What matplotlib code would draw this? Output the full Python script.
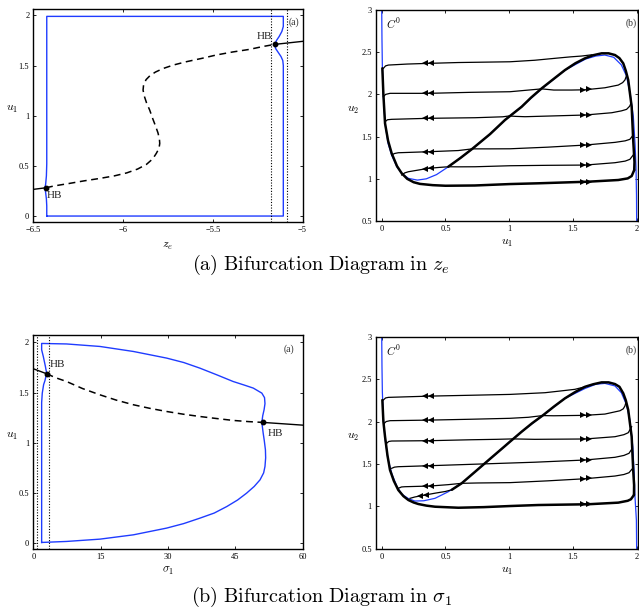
import numpy as np
import matplotlib
matplotlib.use("Agg")
from matplotlib import rcParams

rcParams["mathtext.fontset"] = "cm"
rcParams["font.family"] = "serif"
rcParams["font.serif"] = ["Liberation Serif", "DejaVu Serif"]
import matplotlib.pyplot as plt

BLUE = "#1f3cff"

# ---- (a) bifurcation in z_e ----
ze_ticks = [-6.5, -6, -5.5, -5]
ze_ticklabels = ["\u22126.5", "\u22126", "\u22125.5", "\u22125"]
u1_ticks = [0, 0.5, 1, 1.5, 2]
u1_ticklabels = ["0", "0.5", "1", "1.5", "2"]

ze_cycle = [(-6.426, 0.0), (-5.107, 0.0), (-5.107, 1.50), (-5.11, 1.55), (-5.12, 1.59),
            (-5.135, 1.63), (-5.15, 1.67), (-5.155, 1.71), (-5.145, 1.75), (-5.13, 1.79),
            (-5.115, 1.84), (-5.107, 1.89), (-5.107, 1.99), (-6.426, 1.99), (-6.426, 0.52),
            (-6.428, 0.40), (-6.432, 0.32), (-6.436, 0.28), (-6.432, 0.23), (-6.428, 0.17),
            (-6.426, 0.10), (-6.426, 0.0)]
ze_stable_lo = [(-6.5, 0.266), (-6.43, 0.282)]
ze_unstable = [(-6.43, 0.282), (-6.385, 0.30), (-6.30, 0.325), (-6.22, 0.35), (-6.13, 0.375),
               (-6.05, 0.40), (-5.98, 0.43), (-5.92, 0.468), (-5.87, 0.515), (-5.835, 0.57),
               (-5.815, 0.625), (-5.80, 0.675), (-5.796, 0.724), (-5.798, 0.77), (-5.806, 0.83),
               (-5.82, 0.90), (-5.835, 0.97), (-5.852, 1.056), (-5.87, 1.13), (-5.883, 1.20),
               (-5.889, 1.256), (-5.886, 1.31), (-5.872, 1.36), (-5.85, 1.40), (-5.82, 1.435),
               (-5.778, 1.47), (-5.72, 1.505), (-5.648, 1.538), (-5.56, 1.572), (-5.481, 1.605),
               (-5.39, 1.635), (-5.296, 1.661), (-5.22, 1.69), (-5.154, 1.711)]
ze_stable_hi = [(-5.154, 1.711), (-5.0, 1.741)]
ze_hb = [(-6.43, 0.282), (-5.154, 1.711)]
ze_dotted = [-5.176, -5.089]

# ---- (b) bifurcation in sigma_1 ----
sig_ticks = [0, 15, 30, 45, 60]
sig_ticklabels = ["0", "15", "30", "45", "60"]
sig_cycle = [(1.86, 0.007), (7.4, 0.017), (14.85, 0.04), (22.3, 0.083), (29.7, 0.15),
             (33.5, 0.195), (37.1, 0.249), (40.3, 0.30), (43.1, 0.365), (45.5, 0.43),
             (47.5, 0.498), (49.2, 0.565), (50.5, 0.631), (51.3, 0.70), (51.6, 0.764),
             (51.75, 0.85), (51.7, 0.93), (51.45, 1.02), (51.2, 1.096), (50.9, 1.203),
             (51.1, 1.27), (51.4, 1.329), (51.6, 1.39), (51.5, 1.45), (50.9, 1.495),
             (49.0, 1.545), (47.0, 1.575), (44.5, 1.611), (41.0, 1.675), (37.1, 1.744),
             (33.5, 1.80), (29.7, 1.844), (22.3, 1.91), (14.85, 1.96), (7.4, 1.985),
             (1.86, 1.99), (1.86, 1.927), (2.23, 1.86), (2.7, 1.76), (2.97, 1.694), (2.6, 1.62),
             (2.3, 1.58), (2.0, 1.495), (1.86, 1.4), (1.86, 0.007)]
sig_stable_lo = [(0.0, 1.738), (2.97, 1.688)]
sig_unstable = [(2.97, 1.688), (5.0, 1.648), (7.4, 1.611), (11.0, 1.54), (14.85, 1.478),
                (18.5, 1.425), (22.3, 1.379), (26.0, 1.343), (29.7, 1.312), (33.4, 1.285),
                (37.1, 1.262), (40.8, 1.242), (44.5, 1.223), (48.0, 1.211), (51.2, 1.203)]
sig_stable_hi = [(51.2, 1.203), (60.0, 1.176)]
sig_hb = [(2.97, 1.688), (51.2, 1.203)]
sig_dotted = [0.89, 3.56]

# ---- phase planes ----
ph_xticks = [0, 0.5, 1, 1.5, 2]
ph_xticklabels = ["0", "0.5", "1", "1.5", "2"]
ph_yticks = [0.5, 1, 1.5, 2, 2.5, 3]
ph_yticklabels = ["0.5", "1", "1.5", "2", "2.5", "3"]

c0_a = [(0.0, 3.0), (0.002, 2.65), (0.005, 2.33), (0.012, 2.0), (0.026, 1.66), (0.05, 1.42),
        (0.078, 1.28), (0.12, 1.14), (0.16, 1.06), (0.21, 1.005), (0.28, 0.985), (0.35, 1.0),
        (0.43, 1.05), (0.52, 1.14), (0.62, 1.25), (0.71, 1.355), (0.85, 1.53), (0.97, 1.70),
        (1.1, 1.86), (1.25, 2.06), (1.44, 2.29), (1.6, 2.42), (1.68, 2.455), (1.75, 2.467),
        (1.82, 2.44), (1.88, 2.35), (1.92, 2.22), (1.95, 2.0), (1.974, 1.74), (1.988, 1.4),
        (1.995, 1.14), (1.999, 0.8), (2.0, 0.5)]
cyc_a_lower = [(0.005, 2.31), (0.013, 2.0), (0.026, 1.657), (0.05, 1.45), (0.078, 1.302),
               (0.12, 1.15), (0.157, 1.065), (0.2, 1.0), (0.25, 0.96), (0.3, 0.94), (0.4, 0.925),
               (0.5, 0.918), (0.73, 0.921), (1.006, 0.938), (1.228, 0.947), (1.62, 0.966),
               (1.856, 0.986), (1.93, 1.005), (1.961, 1.033), (1.981, 1.104)]
cyc_a_upper = [(1.981, 1.104), (1.983, 1.2), (1.973, 1.46), (1.961, 1.854), (1.934, 2.171),
               (1.915, 2.28), (1.895, 2.368), (1.865, 2.43), (1.83, 2.467), (1.78, 2.487),
               (1.725, 2.487), (1.66, 2.465), (1.595, 2.428), (1.52, 2.37), (1.438, 2.289),
               (1.35, 2.185), (1.255, 2.072), (1.17, 1.96), (1.098, 1.854), (1.006, 1.744),
               (0.967, 1.697), (0.85, 1.53), (0.71, 1.355), (0.62, 1.25), (0.522, 1.143)]
traj_a = [
    [(0.013, 2.309), (0.03, 2.338), (0.052, 2.348), (0.2, 2.36), (0.366, 2.368), (0.6, 2.378),
     (1.006, 2.387), (1.2, 2.405), (1.359, 2.428), (1.48, 2.445), (1.569, 2.455), (1.65, 2.47)],
    [(0.013, 1.973), (0.03, 2.0), (0.065, 2.013), (0.366, 2.013), (0.7, 2.025), (1.006, 2.032),
     (1.255, 2.066), (1.35, 2.052), (1.49, 2.052), (1.595, 2.055), (1.751, 2.079),
     (1.856, 2.111), (1.89, 2.14), (1.908, 2.171), (1.92, 2.22)],
    [(0.026, 1.676), (0.045, 1.70), (0.078, 1.705), (0.366, 1.717), (0.732, 1.724),
     (0.95, 1.735), (1.0, 1.745), (1.05, 1.74), (1.124, 1.736), (1.595, 1.756), (1.804, 1.783),
     (1.88, 1.805), (1.921, 1.823), (1.945, 1.86), (1.955, 1.894)],
    [(0.078, 1.282), (0.1, 1.30), (0.13, 1.309), (0.366, 1.321), (0.6, 1.335), (0.71, 1.355),
     (0.85, 1.355), (1.006, 1.356), (1.3, 1.375), (1.595, 1.4), (1.83, 1.432), (1.91, 1.45),
     (1.947, 1.468), (1.973, 1.519)],
    [(0.157, 1.045), (0.18, 1.07), (0.209, 1.084), (0.366, 1.124), (0.45, 1.135),
     (0.522, 1.143), (0.6, 1.142), (0.732, 1.143), (1.006, 1.155), (1.3, 1.16), (1.595, 1.163),
     (1.83, 1.191), (1.91, 1.21), (1.947, 1.231), (1.973, 1.282)],
]
left_arrows_a = [[0.34, 0.39]] * 5
right_arrows_a = [None, [1.58, 1.63], [1.58, 1.63], [1.58, 1.63], [1.58, 1.63]]

c0_b = [(0.0, 3.0), (0.002, 2.65), (0.005, 2.35), (0.012, 2.05), (0.026, 1.80), (0.05, 1.55),
        (0.08, 1.38), (0.12, 1.23), (0.16, 1.14), (0.21, 1.09), (0.26, 1.062), (0.33, 1.065),
        (0.418, 1.094), (0.52, 1.17), (0.627, 1.271), (0.75, 1.43), (0.86, 1.57),
        (1.006, 1.762), (1.098, 1.88), (1.268, 2.077), (1.438, 2.274), (1.595, 2.39),
        (1.68, 2.44), (1.751, 2.45), (1.83, 2.42), (1.88, 2.34), (1.92, 2.2), (1.947, 2.018),
        (1.97, 1.7), (1.98, 1.4), (1.987, 1.113), (1.998, 0.838), (2.0, 0.5)]
cyc_b_lower = [(0.005, 2.254), (0.013, 2.0), (0.026, 1.821), (0.045, 1.6), (0.065, 1.428),
               (0.095, 1.3), (0.13, 1.192), (0.17, 1.12), (0.209, 1.074), (0.25, 1.045),
               (0.287, 1.027), (0.35, 1.008), (0.418, 0.995), (0.601, 0.983), (0.8, 0.99),
               (1.006, 1.003), (1.228, 1.015), (1.62, 1.024), (1.856, 1.043), (1.93, 1.065),
               (1.955, 1.083), (1.979, 1.133)]
cyc_b_upper = [(1.979, 1.133), (1.98, 1.25), (1.973, 1.428), (1.961, 1.821), (1.934, 2.136),
               (1.915, 2.25), (1.895, 2.333), (1.865, 2.41), (1.83, 2.442), (1.78, 2.462),
               (1.725, 2.462), (1.66, 2.44), (1.595, 2.41), (1.52, 2.35), (1.438, 2.274),
               (1.35, 2.175), (1.268, 2.077), (1.18, 1.98), (1.098, 1.88), (1.006, 1.762),
               (0.967, 1.711), (0.85, 1.56), (0.75, 1.43), (0.627, 1.271), (0.55, 1.195)]
traj_b = [
    [(0.013, 2.254), (0.03, 2.278), (0.052, 2.285), (0.379, 2.3), (0.7, 2.31), (1.006, 2.32),
     (1.281, 2.34), (1.40, 2.36), (1.516, 2.38), (1.595, 2.41)],
    [(0.02, 1.979), (0.035, 2.0), (0.065, 2.01), (0.379, 2.017), (0.7, 2.027), (1.006, 2.038),
     (1.15, 2.05), (1.262, 2.07), (1.35, 2.068), (1.595, 2.073), (1.751, 2.088),
     (1.869, 2.127), (1.895, 2.15), (1.908, 2.183), (1.915, 2.22)],
    [(0.039, 1.743), (0.055, 1.765), (0.078, 1.77), (0.379, 1.774), (0.7, 1.785), (0.9, 1.79),
     (1.03, 1.795), (1.2, 1.79), (1.595, 1.794), (1.83, 1.821), (1.9, 1.845), (1.934, 1.868),
     (1.961, 1.939)],
    [(0.078, 1.448), (0.1, 1.462), (0.13, 1.467), (0.379, 1.479), (0.6, 1.49), (0.80, 1.50),
     (0.9, 1.505), (1.2, 1.52), (1.595, 1.546), (1.83, 1.578), (1.9, 1.60), (1.94, 1.625),
     (1.966, 1.684)],
    [(0.13, 1.212), (0.155, 1.228), (0.183, 1.231), (0.379, 1.239), (0.52, 1.255),
     (0.627, 1.271), (0.75, 1.275), (1.006, 1.279), (1.3, 1.30), (1.595, 1.325), (1.83, 1.357),
     (1.9, 1.375), (1.94, 1.396), (1.969, 1.448)],
    [(0.222, 1.094), (0.26, 1.11), (0.34, 1.133), (0.42, 1.155), (0.5, 1.175), (0.55, 1.195)],
]
left_arrows_b = [[0.34, 0.39]] * 5 + [[0.30, 0.35]]
right_arrows_b = [None, [1.58, 1.63], [1.58, 1.63], [1.58, 1.63], [1.58, 1.63], None]
cycle_arrows = [1.58, 1.63]


def xy(points):
    return np.array(points).T


def style_axes(ax, xlim, ylim, xt, xtl, yt, ytl, xlabel, ylabel, xlab_y, ylab_x):
    ax.set_xlim(*xlim)
    ax.set_ylim(*ylim)
    ax.set_xticks(xt)
    ax.set_xticklabels(xtl)
    ax.set_yticks(yt)
    ax.set_yticklabels(ytl)
    ax.tick_params(direction="in", top=True, right=True, length=2.5, width=0.6,
                   labelsize=6, pad=3)
    for s in ax.spines.values():
        s.set_linewidth(1.0)
    ax.set_xlabel(xlabel, fontsize=8.5)
    ax.set_ylabel(ylabel, fontsize=8.5, rotation=0)
    ax.xaxis.set_label_coords(0.5, xlab_y)
    ax.yaxis.set_label_coords(ylab_x, 0.5)


def add_arrows(ax, line, us, marker):
    x, y = xy(line)
    ax.plot(us, np.interp(us, x, y), ls="none", marker=marker, ms=4.2, color="k", mew=0)


def bif_panel(ax, cycle, lo, unstable, hi, hb, dotted):
    ax.plot(*xy(cycle), color=BLUE, lw=1.0)
    ax.plot(*xy(lo), color="k", lw=1.0)
    ax.plot(*xy(hi), color="k", lw=1.0)
    ax.plot(*xy(unstable), color="k", lw=1.1, ls=(0, (4.5, 3)))
    for d in dotted:
        ax.axvline(d, color="k", lw=0.8, ls=(0, (1, 1.5)))
    ax.plot(*xy(hb), ls="none", marker="o", ms=3.2, color="k")


def phase_panel(ax, c0, lower, upper, trajs, larrows, rarrows):
    ax.plot(*xy(c0), color=BLUE, lw=0.9)
    for t, la, ra in zip(trajs, larrows, rarrows):
        ax.plot(*xy(t), color="k", lw=0.9)
        if la:
            add_arrows(ax, t, la, "<")
        if ra:
            add_arrows(ax, t, ra, ">")
    ax.plot(*xy(lower), color="k", lw=1.8, solid_capstyle="round")
    ax.plot(*xy(upper), color="k", lw=1.8, solid_capstyle="round")
    add_arrows(ax, lower, cycle_arrows, ">")
    ax.text(0.09, 2.84, r"$C^0$", fontsize=8, ha="center", va="center")
    ax.text(1.955, 2.84, "(b)", fontsize=7, ha="center", va="center", color="#333333")


fig = plt.figure(figsize=(6.39, 6.16), dpi=100)

ax1 = fig.add_axes([0.0524, 0.640, 0.421, 0.3453])
bif_panel(ax1, ze_cycle, ze_stable_lo, ze_unstable, ze_stable_hi, ze_hb, ze_dotted)
style_axes(ax1, (-6.5, -5.0), (-0.057, 2.063), ze_ticks, ze_ticklabels, u1_ticks,
           u1_ticklabels, r"$z_e$", r"$u_1$", -0.085, -0.08)
ax1.text(-6.425, 0.2, "HB", fontsize=8, ha="left", va="center", color="#222222")
ax1.text(-5.17, 1.785, "HB", fontsize=8, ha="right", va="center", color="#222222")
ax1.text(-5.045, 1.93, "(a)", fontsize=7, ha="center", va="center", color="#333333")

ax2 = fig.add_axes([0.5884, 0.6412, 0.4105, 0.3425])
phase_panel(ax2, c0_a, cyc_a_lower, cyc_a_upper, traj_a, left_arrows_a, right_arrows_a)
style_axes(ax2, (-0.045, 2.013), (0.5, 3.0), ph_xticks, ph_xticklabels, ph_yticks,
           ph_yticklabels, r"$u_1$", r"$u_2$", -0.075, -0.088)

ax3 = fig.add_axes([0.0521, 0.1093, 0.4216, 0.347])
bif_panel(ax3, sig_cycle, sig_stable_lo, sig_unstable, sig_stable_hi, sig_hb, sig_dotted)
style_axes(ax3, (0, 60), (-0.055, 2.075), sig_ticks, sig_ticklabels, u1_ticks,
           u1_ticklabels, r"$\sigma_1$", r"$u_1$", -0.075, -0.08)
ax3.text(3.6, 1.78, "HB", fontsize=8, ha="left", va="center", color="#222222")
ax3.text(52.2, 1.096, "HB", fontsize=8, ha="left", va="center", color="#222222")
ax3.text(57.0, 1.93, "(a)", fontsize=7, ha="center", va="center", color="#333333")

ax4 = fig.add_axes([0.5884, 0.1093, 0.4105, 0.344])
phase_panel(ax4, c0_b, cyc_b_lower, cyc_b_upper, traj_b, left_arrows_b, right_arrows_b)
style_axes(ax4, (-0.045, 2.013), (0.5, 3.0), ph_xticks, ph_xticklabels, ph_yticks,
           ph_yticklabels, r"$u_1$", r"$u_2$", -0.075, -0.088)

fig.text(0.503, 0.570, r"$\mathrm{(a)\ Bifurcation\ Diagram\ in}\ z_e$", fontsize=14.5,
         ha="center", va="center")
fig.text(0.503, 0.031, r"$\mathrm{(b)\ Bifurcation\ Diagram\ in}\ \sigma_1$", fontsize=14.5,
         ha="center", va="center")

fig.savefig("out.png", dpi=100)
